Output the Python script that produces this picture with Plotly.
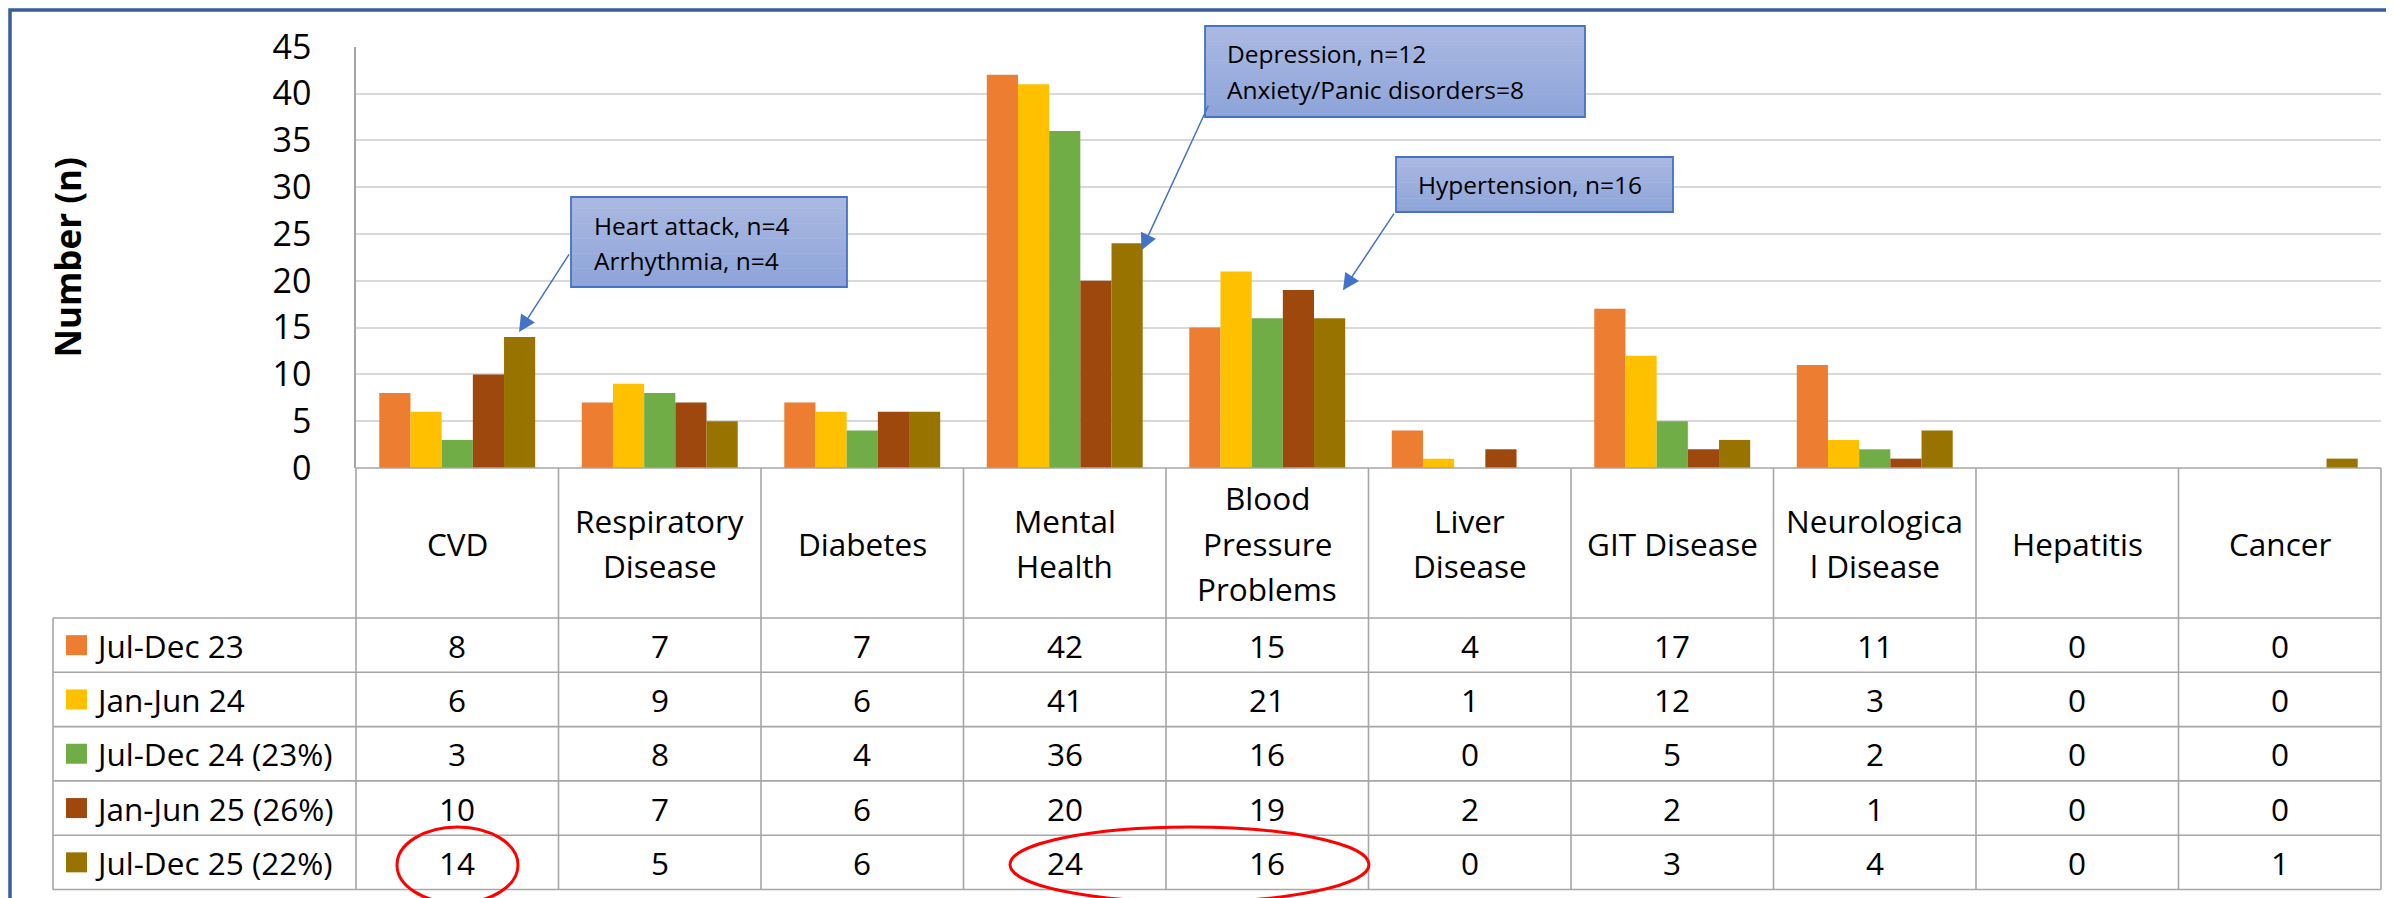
import plotly.graph_objects as go

# ---------------- data ----------------
categories = ["CVD", "Respiratory Disease", "Diabetes", "Mental Health",
              "Blood Pressure Problems", "Liver Disease", "GIT Disease",
              "Neurological Disease", "Hepatitis", "Cancer"]
header_labels = ["CVD", "Respiratory<br>Disease", "Diabetes", "Mental<br>Health",
                 "Blood<br>Pressure<br>Problems", "Liver<br>Disease", "GIT Disease",
                 "Neurologica<br>l Disease", "Hepatitis", "Cancer"]
series_names = ["Jul-Dec 23", "Jan-Jun 24", "Jul-Dec 24 (23%)",
                "Jan-Jun 25 (26%)", "Jul-Dec 25 (22%)"]
jul_dec_23 = [8, 7, 7, 42, 15, 4, 17, 11, 0, 0]
jan_jun_24 = [6, 9, 6, 41, 21, 1, 12, 3, 0, 0]
jul_dec_24 = [3, 8, 4, 36, 16, 0, 5, 2, 0, 0]
jan_jun_25 = [10, 7, 6, 20, 19, 2, 2, 1, 0, 0]
jul_dec_25 = [14, 5, 6, 24, 16, 0, 3, 4, 0, 1]
series_values = [jul_dec_23, jan_jun_24, jul_dec_24, jan_jun_25, jul_dec_25]
y_ticks = [0, 5, 10, 15, 20, 25, 30, 35, 40, 45]

callout_texts = [["Heart attack, n=4", "Arrhythmia, n=4"],
                 ["Depression, n=12", "Anxiety/Panic disorders=8"],
                 ["Hypertension, n=16"]]
callout_targets = [("CVD", 4), ("Mental Health", 4), ("Blood Pressure Problems", 4)]  # (category, series idx)

# ---------------- style ----------------
colors = ["#ED7D31", "#FFC000", "#70AD47", "#9E480E", "#997300"]
FONT = "Open Sans"
PAGE_W, PAGE_H = 2394, 898
OFF = 8                      # default page body margin
W, H = PAGE_W - OFF, PAGE_H - OFF


def px(x):
    """page pixel x -> paper fraction"""
    return (x - OFF) / W


def py(y):
    """page pixel y -> paper fraction"""
    return 1 - (y - OFF) / H


PLOT_L, PLOT_R = 356, 2381
PLOT_T, PLOT_B = 46.7, 468
HEAD_B = 618
ROW_H = 54.3
TABLE_L = 53
N = len(categories)
COL_W = (PLOT_R - PLOT_L) / N
BARGAP = 0.23
PX_PER_UNIT = (PLOT_B - PLOT_T) / 45.0
LINE_C = "#A6A6A6"
TABLE_FS = 31.5

fig = go.Figure()
for name, vals, col in zip(series_names, series_values, colors):
    fig.add_trace(go.Bar(name=name, x=categories, y=vals,
                         marker=dict(color=col, line=dict(width=0)),
                         showlegend=False, hoverinfo="x+y+name"))

shapes = []
annotations = []

# table grid
TABLE_B = HEAD_B + ROW_H * len(series_names)
shapes.append(dict(type="line", xref="paper", yref="paper", x0=px(PLOT_L), x1=px(PLOT_R),
                   y0=py(PLOT_B), y1=py(PLOT_B), line=dict(color=LINE_C, width=1.6)))
for k in range(len(series_names) + 1):
    yy = HEAD_B + k * ROW_H
    shapes.append(dict(type="line", xref="paper", yref="paper", x0=px(TABLE_L), x1=px(PLOT_R),
                       y0=py(yy), y1=py(yy), line=dict(color=LINE_C, width=1.6)))
for j in range(N + 1):
    xx = PLOT_L + j * COL_W
    shapes.append(dict(type="line", xref="paper", yref="paper", x0=px(xx), x1=px(xx),
                       y0=py(PLOT_B), y1=py(TABLE_B), line=dict(color=LINE_C, width=1.6)))
shapes.append(dict(type="line", xref="paper", yref="paper", x0=px(TABLE_L), x1=px(TABLE_L),
                   y0=py(HEAD_B), y1=py(TABLE_B), line=dict(color=LINE_C, width=1.6)))

# header labels (one annotation per line for Excel-like line spacing)
HEAD_C = (PLOT_B + HEAD_B) / 2
LINE_SP = 45.5
for i, lab in enumerate(header_labels):
    lines = lab.split("<br>")
    n = len(lines)
    for li, t in enumerate(lines):
        yc = HEAD_C + (li - (n - 1) / 2) * LINE_SP
        annotations.append(dict(x=categories[i], xref="x", y=py(yc), yref="paper",
                                text=t, showarrow=False, xanchor="center", yanchor="middle",
                                font=dict(family=FONT, size=TABLE_FS, color="black")))

# rows: legend key + name + values
for k, (name, vals, col) in enumerate(zip(series_names, series_values, colors)):
    yc = HEAD_B + (k + 0.5) * ROW_H
    shapes.append(dict(type="rect", xref="paper", yref="paper", x0=px(66), x1=px(87),
                       y0=py(yc + 10), y1=py(yc - 10), fillcolor=col, line=dict(width=0)))
    annotations.append(dict(x=px(93), xref="paper", y=py(yc), yref="paper", text=name,
                            showarrow=False, xanchor="left", yanchor="middle",
                            font=dict(family=FONT, size=TABLE_FS, color="black")))
    for i, v in enumerate(vals):
        annotations.append(dict(x=categories[i], xref="x", y=py(yc), yref="paper", text=str(v),
                                showarrow=False, xanchor="center", yanchor="middle",
                                font=dict(family=FONT, size=TABLE_FS, color="black")))

# y-axis title
annotations.append(dict(x=px(67), xref="paper", y=py(257.5), yref="paper",
                        text="<b>Number (n)</b>", textangle=-90, showarrow=False,
                        xanchor="center", yanchor="middle",
                        font=dict(family=FONT, size=35, color="black")))

# callout boxes with vertical gradient (bands)
boxes = [(571, 847, 197, 287), (1205, 1585, 26, 117), (1396, 1673, 157, 212)]
text_pos = [(592, [225.5, 260.5]), (1225, [54, 89]), (1416, [184.5])]
top_rgb = (170, 185, 226)
bot_rgb = (141, 164, 217)
NB = 24
for (x0, x1, y0, y1) in boxes:
    for b in range(NB):
        t = (b + 0.5) / NB
        c = tuple(int(round(top_rgb[m] + (bot_rgb[m] - top_rgb[m]) * t)) for m in range(3))
        ya = y0 + (y1 - y0) * b / NB
        yb = min(y0 + (y1 - y0) * (b + 1) / NB + 0.6, y1)
        shapes.append(dict(type="rect", xref="paper", yref="paper", x0=px(x0), x1=px(x1),
                           y0=py(yb), y1=py(ya), fillcolor="rgb(%d,%d,%d)" % c,
                           line=dict(width=0)))
    shapes.append(dict(type="rect", xref="paper", yref="paper", x0=px(x0), x1=px(x1),
                       y0=py(y1), y1=py(y0), line=dict(color="#4472C4", width=1.8)))

for (tx, ys), lines in zip(text_pos, callout_texts):
    for yy, t in zip(ys, lines):
        annotations.append(dict(x=px(tx), xref="paper", y=py(yy), yref="paper", text=t,
                                showarrow=False, xanchor="left", yanchor="middle",
                                font=dict(family=FONT, size=24.5, color="black")))

# arrows from callouts to bars
tip_dx = [0.305, 0.379, 0.374]          # offset within category (category units)
tip_dy_px = [5, -7, 28]                # tip above bar top (pixels)
tails = [(51, -79), (67.5, -146), (52, -78)]
for (cat, si), dx, dy, (ax, ay) in zip(callout_targets, tip_dx, tip_dy_px, tails):
    ci = categories.index(cat)
    val = series_values[si][ci]
    annotations.append(dict(x=ci + dx, xref="x", y=val + dy / PX_PER_UNIT, yref="y",
                            text="", showarrow=True, arrowhead=2, arrowsize=2.2,
                            arrowwidth=1.5, arrowcolor="#4472C4", ax=ax, ay=ay,
                            standoff=0, startstandoff=0))

# red ellipses highlighting cells
shapes.append(dict(type="circle", xref="paper", yref="paper", x0=px(397), x1=px(518),
                   y0=py(903), y1=py(827), line=dict(color="#FF0000", width=3)))
shapes.append(dict(type="circle", xref="paper", yref="paper", x0=px(1010), x1=px(1369),
                   y0=py(902), y1=py(827), line=dict(color="#FF0000", width=3)))

# outer chart border
shapes.append(dict(type="rect", xref="paper", yref="paper", x0=px(10), x1=px(PAGE_W + 20),
                   y0=py(PAGE_H + 20), y1=py(10), line=dict(color="#3A5C9E", width=3.5)))

fig.update_layout(
    width=W, height=H,
    margin=dict(l=0, r=0, t=0, b=0, pad=0),
    barmode="group", bargap=BARGAP, bargroupgap=0,
    plot_bgcolor="white", paper_bgcolor="white",
    font=dict(family=FONT, color="black"),
    showlegend=False,
    xaxis=dict(domain=[px(PLOT_L), px(PLOT_R)], type="category",
               categoryorder="array", categoryarray=categories,
               range=[-0.5, N - 0.5], showticklabels=False, showgrid=False,
               zeroline=False, showline=False, ticks="", automargin=False),
    yaxis=dict(domain=[py(PLOT_B), py(PLOT_T)], range=[0, 45],
               tickmode="array", tickvals=y_ticks, ticktext=[str(v) for v in y_ticks],
               showgrid=True, gridcolor="#D9D9D9", gridwidth=1.5,
               zeroline=False, showline=True, linecolor=LINE_C, linewidth=1.6,
               ticks="", ticklabelstandoff=36,
               tickfont=dict(family=FONT, size=34, color="black"), automargin=False),
    shapes=shapes,
    annotations=annotations,
)

fig.write_html("out.html")
